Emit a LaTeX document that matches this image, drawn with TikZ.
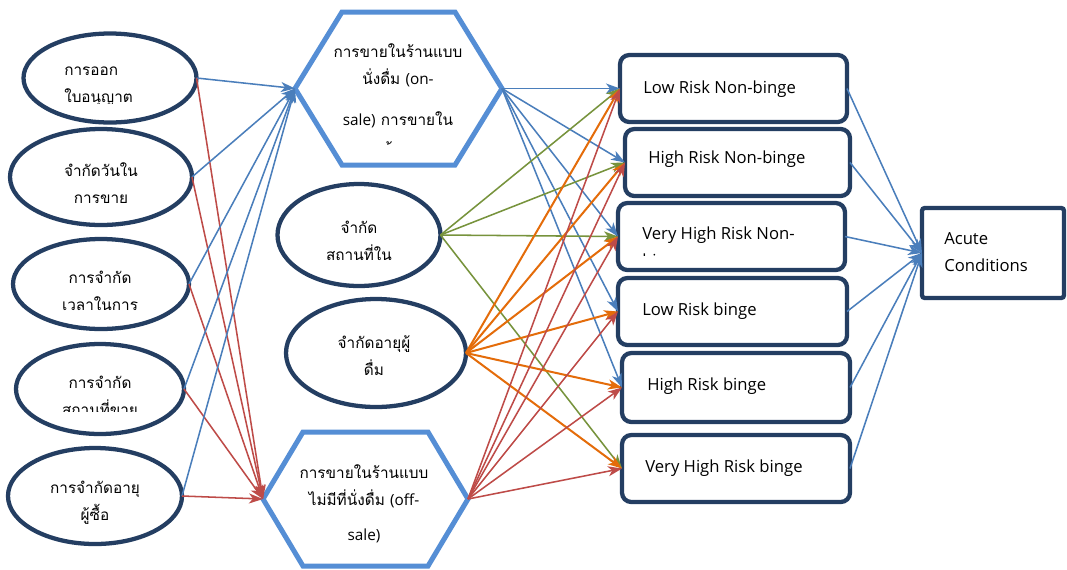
\documentclass[tikz,border=0pt]{standalone}
\usepackage{fontspec}
\setmainfont{Open Sans}
\newfontfamily\latinfont{Open Sans}
\newfontfamily\thaifont[Script=Thai]{Loma}
\usetikzlibrary{shapes.geometric,arrows.meta,calc}

\definecolor{navy}{RGB}{36,62,98}
\definecolor{hexblue}{RGB}{85,142,213}
\definecolor{lnblue}{RGB}{74,126,187}
\definecolor{lnred}{RGB}{190,75,72}
\definecolor{lngreen}{RGB}{119,147,60}
\definecolor{lnorange}{RGB}{228,108,10}

\tikzset{
  oval/.style={ellipse, draw=navy, line width=3.2pt, inner sep=0pt, outer sep=0pt},
  riskbox/.style={rectangle, rounded corners=7pt, draw=navy, line width=3.2pt, inner sep=0pt, outer sep=0pt},
  endbox/.style={rectangle, rounded corners=2pt, draw=navy, line width=3.2pt, inner sep=0pt, outer sep=0pt},
  hexframe/.style={rectangle, inner sep=0pt, outer sep=0pt},
  hexline/.style={draw=hexblue, line width=3.75pt, line join=miter},
  thaitext/.style={font={\thaifont\fontsize{11.5}{20.25}\selectfont\lineskiplimit=-100pt}, inner sep=0pt, align=center},
  engtext/.style={font={\latinfont\fontsize{12.5}{20.25}\selectfont\lineskiplimit=-100pt}, inner sep=0pt, align=left},
  link/.style={line width=1.15pt, -{Stealth[length=10.5pt,width=7.5pt,inset=3pt]}},
  fromleft/.style={link, lnblue},
  fromleftoff/.style={link, lnred},
  fromon/.style={link, lnblue},
  fromoff/.style={link, lnred},
  fromplace/.style={link, lngreen},
  fromage/.style={link, lnorange, line width=1.5pt},
  toacute/.style={link, lnblue},
}

\begin{document}
\begin{tikzpicture}[x=0.75pt,y=-0.75pt]
\useasboundingbox (0,0) rectangle (1067,569);
\fill[white] (0,0) rectangle (1067,569);

% ---- policy measures (left column) ----
\node[oval, minimum width=129.75pt, minimum height=66.75pt] (lic)   at (110,78)  {};
\node[oval, minimum width=136.5pt,  minimum height=72pt]    (day)   at (101,177) {};
\node[oval, minimum width=132pt,    minimum height=67.5pt]  (hour)  at (101,284) {};
\node[oval, minimum width=126pt,    minimum height=67.5pt]  (shop)  at (100,389) {};
\node[oval, minimum width=130.5pt,  minimum height=72pt]    (buyer) at (95,496)  {};

% ---- middle ovals ----
\node[oval, minimum width=122.25pt, minimum height=76.5pt] (venue)   at (359,235) {};
\node[oval, minimum width=135pt,    minimum height=81pt]   (drinker) at (376,353) {};

% ---- sale type hexagons ----
\node[hexframe, minimum width=155.25pt, minimum height=114.75pt] (onsale)  at (398.5,88.5) {};
\node[hexframe, minimum width=153.75pt, minimum height=100.5pt]  (offsale) at (365.5,499)  {};
\draw[hexline] (onsale.west)
  -- ($(onsale.north west)!0.227!(onsale.north east)$)
  -- ($(onsale.north east)!0.227!(onsale.north west)$)
  -- (onsale.east)
  -- ($(onsale.south east)!0.227!(onsale.south west)$)
  -- ($(onsale.south west)!0.227!(onsale.south east)$) -- cycle;
\draw[hexline] (offsale.west)
  -- ($(offsale.north west)!0.195!(offsale.north east)$)
  -- ($(offsale.north east)!0.195!(offsale.north west)$)
  -- (offsale.east)
  -- ($(offsale.south east)!0.195!(offsale.south west)$)
  -- ($(offsale.south west)!0.195!(offsale.south east)$) -- cycle;

% ---- drinking pattern boxes ----
\node[riskbox, minimum width=170.25pt, minimum height=50.25pt] (r1) at (733.5,88.5)  {};
\node[riskbox, minimum width=168.75pt, minimum height=50.25pt] (r2) at (737.5,162.5) {};
\node[riskbox, minimum width=170.25pt, minimum height=50.25pt] (r3) at (731.5,236.5) {};
\node[riskbox, minimum width=171.75pt, minimum height=50.25pt] (r4) at (732.5,311.5) {};
\node[riskbox, minimum width=171pt,    minimum height=51.75pt] (r5) at (736,387.5)   {};
\node[riskbox, minimum width=171pt,    minimum height=50.25pt] (r6) at (736,468.5)   {};

% ---- outcome ----
\node[endbox, minimum width=106.5pt, minimum height=67.5pt] (acute) at (993,253) {};

% ---- labels (base anchor = baseline of the last line) ----
\begin{scope}
  \clip (0,0) rectangle (200,103);
  \node[thaitext, align=left, anchor=base west] (lictxt) at (64,102) {การออก\\ใบอนุญาต};
\end{scope}
\node[thaitext, anchor=base] (daytxt)  at (101,203) {จำกัดวันใน\\การขาย};
\node[thaitext, anchor=base] (hourtxt) at (100,310) {การจำกัด\\เวลาในการ};
\begin{scope}
  \clip (0,340) rectangle (200,411);
  \node[thaitext, anchor=base] (shoptxt) at (100,415) {การจำกัด\\สถานที่ขาย};
\end{scope}
\node[thaitext, anchor=base] (buyertxt)   at (95,520)  {การจำกัดอายุ\\ผู้ซื้อ};
\node[thaitext, anchor=base] (venuetxt)   at (359,260) {จำกัด\\สถานที่ใน};
\node[thaitext, anchor=base] (drinkertxt) at (374,375) {จำกัดอายุผู้\\ดื่ม};
\begin{scope}
  \clip (300,20) rectangle (500,144);
  \node[thaitext, anchor=base] (ontxt) at (398,154)
    {การขายในร้านแบบ\\นั่งดื่ม {\latinfont (on-}\\[10.5pt]{\latinfont sale)} การขายใน\\[1.5pt]ร้าน};
\end{scope}
\node[thaitext, anchor=base] (offtxt) at (364,540)
  {การขายในร้านแบบ\\ไม่มีที่นั่งดื่ม {\latinfont (off-}\\[6pt]{\latinfont sale)}};

\node[engtext, anchor=base west] (r1txt) at (643,93)  {Low Risk Non-binge};
\node[engtext, anchor=base west] (r2txt) at (648,163) {High Risk Non-binge};
\begin{scope}
  \clip (630,210) rectangle (840,255);
  \node[engtext, anchor=base west] (r3txt) at (642,266) {Very High Risk Non-\\binge};
\end{scope}
\node[engtext, anchor=base west] (r4txt) at (642,315) {Low Risk binge};
\node[engtext, anchor=base west] (r5txt) at (647,390) {High Risk binge};
\node[engtext, anchor=base west] (r6txt) at (645,472) {Very High Risk binge};
\node[engtext, anchor=base west] (acutetxt) at (944,271) {Acute\\Conditions};

% ---- connectors ----
\foreach \src in {lic,day,hour,shop,buyer} {
  \draw[fromleft]    (\src.east) -- (onsale.west);
  \draw[fromleftoff] (\src.east) -- (offsale.west);
}
\foreach \dst in {r1,r2,r3,r4,r5}
  \draw[fromon] (onsale.east) -- (\dst.west);
\foreach \dst in {r1,r2,r3,r6}
  \draw[fromplace] (venue.east) -- (\dst.west);
\foreach \dst in {r1,r2,r3,r4,r5,r6}
  \draw[fromage] (drinker.east) -- (\dst.west);
\foreach \dst in {r1,r2,r3,r4,r5,r6}
  \draw[fromoff] (offsale.east) -- (\dst.west);
\foreach \src in {r1,r2,r3,r4,r5,r6}
  \draw[toacute] (\src.east) -- (acute.west);
\end{tikzpicture}
\end{document}
